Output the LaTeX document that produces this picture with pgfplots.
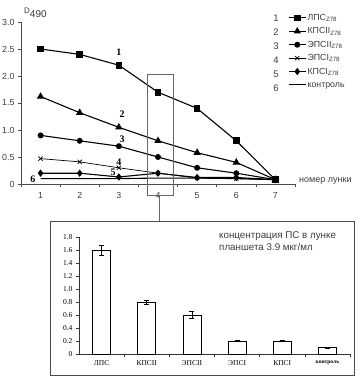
\documentclass[border=0pt]{standalone}
\usepackage{pgfplots}
\pgfplotsset{compat=1.18}
\usepackage{fontspec}
\setmainfont{Liberation Sans}
\newfontfamily\tnr{Liberation Serif}
\definecolor{txt}{RGB}{60,60,60}
\begin{document}
\begin{tikzpicture}[x=1pt,y=1pt]
\path[use as bounding box] (0,0) rectangle (361,384);
\begin{axis}[
  at={(21pt,200pt)}, anchor=south west,
  scale only axis, width=274pt, height=162pt,
  xmin=0.5, xmax=7.5, ymin=0, ymax=3,
  axis lines*=left,
  axis line style={black!70, line width=0.6pt},
  xtick={1,...,7}, major x tick style={draw=none},
  minor xtick={0.5,1.5,...,7.5},
  ytick={0,0.5,...,3}, yticklabels={0,0.5,1.0,1.5,2.0,2.5,3.0},
  tick align=outside, major tick length=3pt, minor tick length=3pt,
  tick style={black!70, line width=0.5pt},
  ticklabel style={font=\fontsize{8.8}{10}\selectfont, text=txt},
  /pgf/number format/assume math mode=true,
  xticklabel style={yshift=-2pt},
  clip=false,
  legend style={at={(axis description cs:0.9635,1.08)}, anchor=north west,
    draw=none, fill=none, font=\fontsize{8.8}{10}\selectfont, text=txt,
    row sep=0pt, nodes={text height=8pt, text depth=3pt, inner sep=1.2pt}},
  legend cell align=left,
]
\addplot[black, line width=1.1pt, mark=square*, mark size=2.8pt] coordinates {(1,2.5)(2,2.4)(3,2.2)(4,1.7)(5,1.4)(6,0.8)(7,0.08)};
\addlegendentry{ЛПС\textsubscript{Z78}}
\addplot[black, line width=1.1pt, mark=triangle*, mark size=3.2pt] coordinates {(1,1.62)(2,1.32)(3,1.05)(4,0.8)(5,0.58)(6,0.4)(7,0.08)};
\addlegendentry{КПСII\textsubscript{Z78}}
\addplot[black, line width=1.1pt, mark=*, mark size=2.4pt] coordinates {(1,0.9)(2,0.8)(3,0.7)(4,0.5)(5,0.3)(6,0.2)(7,0.08)};
\addlegendentry{ЭПСII\textsubscript{Z78}}
\addplot[black, line width=0.7pt, mark=x, mark size=3pt] coordinates {(1,0.47)(2,0.41)(3,0.3)(4,0.2)(5,0.11)(6,0.1)(7,0.08)};
\addlegendentry{ЭПСI\textsubscript{Z78}}
\addplot[black, line width=1.1pt, mark=diamond*, mark size=2.8pt] coordinates {(1,0.2)(2,0.2)(3,0.13)(4,0.2)(5,0.12)(6,0.12)(7,0.08)};
\addlegendentry{КПСI\textsubscript{Z78}}
\addplot[black, line width=1.1pt, mark=none] coordinates {(1,0.1)(2,0.1)(3,0.1)(4,0.11)(5,0.11)(6,0.1)(7,0.08)};
\addlegendentry{контроль}
\end{axis}
% y label
\node[anchor=west, text=txt, inner sep=0pt, font=\fontsize{8}{9}\selectfont] at (24,371) {D\textsubscript{\fontsize{10}{10}\selectfont 490}};
% x label
\node[anchor=west, text=txt, inner sep=0pt, font=\fontsize{9}{10}\selectfont] at (299,203) {номер лунки};
% legend numbers
\foreach \n/\yy in {1/366,2/352,3/338,4/324,5/310,6/296}
  \node[text=txt, inner sep=0pt, font=\fontsize{9.5}{10}\selectfont] at (276,\yy) {\n};
% curve numbers
\foreach \n/\xx/\yy in {1/119/332,2/122/270,3/122/245,4/119/222,5/113/212,6/33/205}
  \node[inner sep=0pt, font=\tnr\bfseries\fontsize{10}{10}\selectfont] at (\xx,\yy) {\n};
% highlight box and connector
\draw[black!60, line width=0.6pt] (147,310) rectangle (173,189);
\draw[black!60, line width=0.6pt] (159,189) -- (159,163);
\draw[black!70, line width=0.6pt] (50,163) rectangle (354,9);
\begin{axis}[
  at={(79pt,30pt)}, anchor=south west,
  scale only axis, width=271pt, height=117pt,
  xmin=-0.5, xmax=5.5, ymin=0, ymax=1.8,
  axis lines*=left,
  axis line style={black!80, line width=0.6pt},
  xtick={0,...,5},
  xticklabels={ЛПС,КПСII,ЭПСII,ЭПСI,КПСI,{\bfseries\fontsize{5.5}{6}\selectfont контроль}},
  minor xtick={0.5,1.5,...,5.5},
  major x tick style={draw=none},
  ytick={0,0.2,...,1.8}, yticklabels={0,0.2,0.4,0.6,0.8,1.0,1.2,1.4,1.6,1.8},
  tick align=outside, major tick length=3pt, minor tick length=3pt,
  tick style={black!80, line width=0.5pt},
  ticklabel style={font=\tnr\fontsize{7.5}{8}\selectfont},
  /pgf/number format/assume math mode=true,
  clip=false,
]
\addplot[ybar, bar width=18pt, fill=white, draw=black, line width=0.7pt,
  error bars/.cd, y dir=both, y explicit, error bar style={line width=0.6pt}, error mark options={rotate=90, mark size=2.5pt, line width=0.6pt}]
  coordinates {(0,1.6) +- (0,0.08) (1,0.8) +- (0,0.03) (2,0.6) +- (0,0.05) (3,0.2) +- (0,0.005) (4,0.2) +- (0,0.005) (5,0.1) +- (0,0.005)};
\end{axis}
\node[anchor=north west, align=left, text=txt, inner sep=0pt, font=\fontsize{9.8}{12.5}\selectfont] at (219,153) {концентрация ПС в лунке\\планшета 3.9 мкг/мл};
\end{tikzpicture}
\end{document}
